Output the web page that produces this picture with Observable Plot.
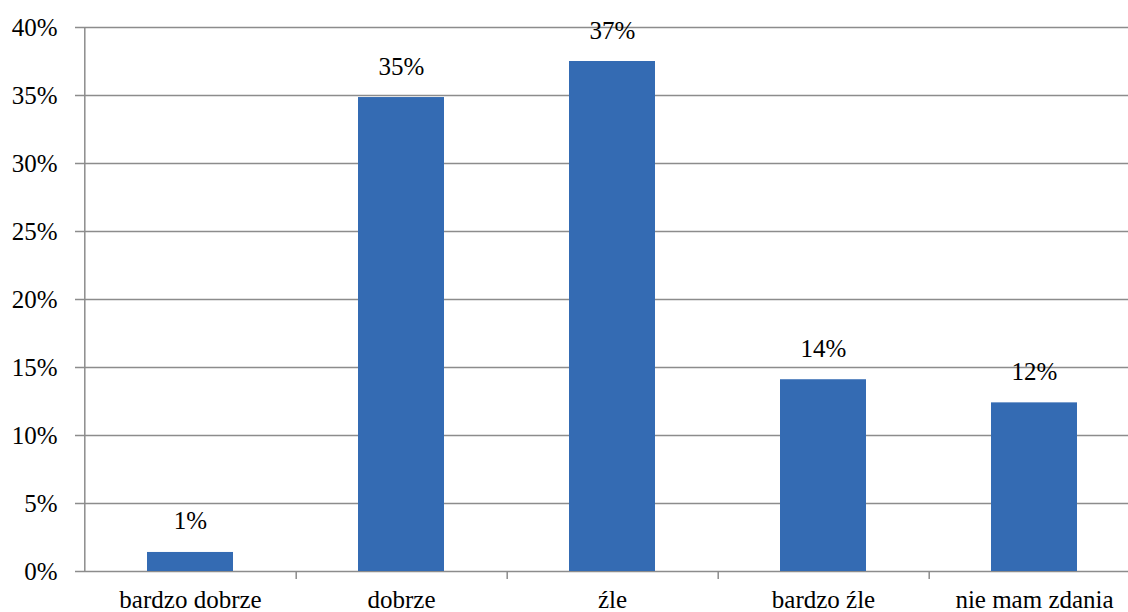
<!DOCTYPE html>
<html>
<head>
<meta charset="utf-8">
<script src="https://cdn.jsdelivr.net/npm/d3@7"></script>
<script src="https://cdn.jsdelivr.net/npm/@observablehq/plot@0.6"></script>
<style>
  html, body { margin: 0; padding: 0; background: #fff; }
  #chart svg { display: block; }
</style>
</head>
<body>
<div id="chart"></div>
<script>
const categories = ["bardzo dobrze", "dobrze", "źle", "bardzo źle", "nie mam zdania"];
const values = [1.4, 34.85, 37.5, 14.1, 12.4];
const labels = ["1%", "35%", "37%", "14%", "12%"];
const yTicks = [0, 5, 10, 15, 20, 25, 30, 35, 40];

const data = categories.map((c, i) => ({cat: c, value: values[i], label: labels[i]}));

const FONT = "Liberation Serif";
const xLeft = 83, xRight = 1140;
const half = (xRight - xLeft) / categories.length / 2;

const chart = Plot.plot({
  width: 1128,
  height: 612,
  marginTop: 27,
  marginBottom: 41,
  marginLeft: xLeft,
  marginRight: 0,
  style: {fontSize: "25px", fontFamily: FONT},
  x: {domain: categories, range: [xLeft, xRight], paddingInner: 0.593, paddingOuter: 0.2965, label: null},
  y: {domain: [0, 40], range: [571, 27], label: null},
  marks: [
    Plot.ruleY(yTicks, {stroke: "#8c8c8c", strokeWidth: 1.5, insetLeft: -8}),
    Plot.ruleX([categories[0]], {y1: 0, y2: 40, dx: -half, stroke: "#8c8c8c", strokeWidth: 1.5}),
    Plot.ruleX(categories, {y1: 0, y2: 0, dx: half, insetBottom: -8, stroke: "#8c8c8c", strokeWidth: 1.5}),
    Plot.barY(data, {x: "cat", y: "value", fill: "#346BB3"}),
    Plot.text(data, {x: "cat", y: "value", text: "label", dy: -31, fontSize: 25, fill: "#000"}),
    Plot.axisY({ticks: yTicks, tickFormat: d => d + "%", tickSize: 0, tickPadding: 26, fill: "#000"}),
    Plot.axisX({tickSize: 0, tickPadding: 19, fill: "#000"})
  ]
});

document.getElementById("chart").appendChild(chart);
</script>
</body>
</html>
